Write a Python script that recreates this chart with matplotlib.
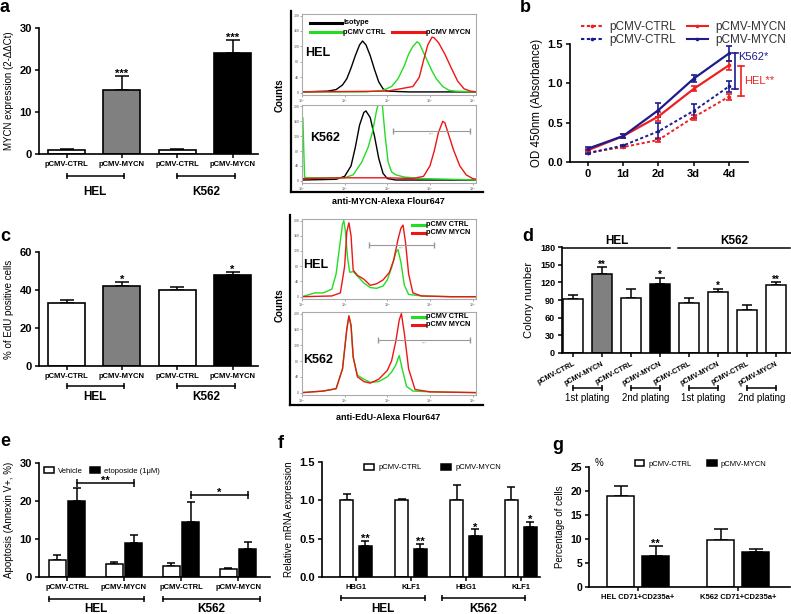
import numpy as np
import matplotlib
matplotlib.use('Agg')
import matplotlib.pyplot as plt
from matplotlib import transforms
from matplotlib.lines import Line2D

plt.rcParams['font.family'] = ['Liberation Sans', 'DejaVu Sans']
plt.rcParams['font.weight'] = 'bold'

# ---- data ----
# panel a: MYCN expression
a_labels = ['pCMV-CTRL', 'pCMV-MYCN', 'pCMV-CTRL', 'pCMV-MYCN']
a_vals = [1.0, 15.2, 1.0, 24.0]
a_err = [0.2, 3.3, 0.2, 3.1]
a_sig = ['', '***', '', '***']

# panel b: OD450 growth curves
b_days = ['0', '1d', '2d', '3d', '4d']
b_hel_ctrl = [0.12, 0.19, 0.28, 0.57, 0.83]
b_hel_ctrl_err = [0.01, 0.01, 0.02, 0.03, 0.04]
b_k562_ctrl = [0.11, 0.21, 0.39, 0.65, 0.96]
b_k562_ctrl_err = [0.01, 0.01, 0.10, 0.09, 0.07]
b_hel_mycn = [0.15, 0.33, 0.58, 0.93, 1.23]
b_hel_mycn_err = [0.02, 0.02, 0.06, 0.03, 0.06]
b_k562_mycn = [0.17, 0.33, 0.66, 1.06, 1.38]
b_k562_mycn_err = [0.02, 0.03, 0.09, 0.04, 0.09]

# panel c: EdU positive cells
c_vals = [33, 42, 40, 48]
c_err = [2.0, 2.0, 1.5, 1.3]
c_sig = ['', '*', '', '*']

# panel d: colony number
d_labels = ['pCMV-CTRL', 'pCMV-MYCN'] * 4
d_vals = [92, 134, 93, 118, 85, 103, 73, 116]
d_err = [7, 12, 15, 10, 9, 6, 8, 4]
d_sig = ['', '**', '', '*', '', '*', '', '**']
d_platings = ['1st plating', '2nd plating', '1st plating', '2nd plating']

# panel e: apoptosis
e_labels = ['pCMV-CTRL', 'pCMV-MYCN', 'pCMV-CTRL', 'pCMV-MYCN']
e_veh = [4.5, 3.5, 2.8, 2.1]
e_veh_err = [1.2, 0.5, 0.9, 0.4]
e_eto = [20.0, 9.0, 14.5, 7.5]
e_eto_err = [3.5, 2.0, 5.2, 1.8]

# panel f: relative mRNA expression
f_labels = ['HBG1', 'KLF1', 'HBG1', 'KLF1']
f_ctrl = [1.0, 1.0, 1.0, 1.0]
f_ctrl_err = [0.08, 0.02, 0.20, 0.17]
f_mycn = [0.40, 0.37, 0.53, 0.65]
f_mycn_err = [0.07, 0.06, 0.09, 0.07]
f_sig = ['**', '**', '*', '*']

# panel g: percentage of cells
g_labels = ['HEL CD71+CD235a+', 'K562 CD71+CD235a+']
g_ctrl = [18.9, 9.8]
g_ctrl_err = [2.2, 2.2]
g_mycn = [6.4, 7.2]
g_mycn_err = [2.1, 0.8]
g_sig = ['**', '']

# flow cytometry curves (log10 intensity, relative counts)
fa_hel_iso_x = [0, 0.6, 0.8, 0.95, 1.05, 1.15, 1.25, 1.35, 1.42, 1.5, 1.6, 1.7, 1.8, 1.9, 2.0, 2.5, 3.0, 3.5, 4.1]
fa_hel_iso_y = [0.01, 0.02, 0.04, 0.10, 0.18, 0.32, 0.48, 0.62, 0.67, 0.62, 0.48, 0.30, 0.14, 0.05, 0.02, 0.01, 0.01, 0.01, 0.01]
fa_hel_ctrl_x = [0, 1.5, 1.9, 2.1, 2.25, 2.4, 2.5, 2.6, 2.7, 2.75, 2.85, 2.95, 3.05, 3.15, 3.3, 3.45, 3.6, 4.1]
fa_hel_ctrl_y = [0.01, 0.01, 0.03, 0.08, 0.18, 0.35, 0.50, 0.60, 0.66, 0.64, 0.52, 0.40, 0.28, 0.18, 0.08, 0.03, 0.02, 0.01]
fa_hel_mycn_x = [0, 2.0, 2.3, 2.6, 2.75, 2.85, 2.95, 3.05, 3.1, 3.2, 3.35, 3.5, 3.65, 3.8, 3.95, 4.1]
fa_hel_mycn_y = [0.01, 0.02, 0.05, 0.08, 0.20, 0.42, 0.62, 0.72, 0.71, 0.65, 0.50, 0.32, 0.15, 0.05, 0.02, 0.01]
fa_k_iso_x = [0, 0.8, 1.0, 1.15, 1.25, 1.35, 1.45, 1.5, 1.6, 1.7, 1.8, 1.9, 2.0, 2.2, 3.0, 4.1]
fa_k_iso_y = [0.01, 0.02, 0.06, 0.20, 0.45, 0.75, 0.92, 0.94, 0.85, 0.60, 0.30, 0.10, 0.03, 0.01, 0.01, 0.01]
fa_k_ctrl_x = [0, 0.02, 0.06, 0.1, 0.5, 1.0, 1.2, 1.4, 1.55, 1.65, 1.75, 1.82, 1.88, 1.95, 2.02, 2.1, 2.2, 2.4, 2.8, 3.5, 4.1]
fa_k_ctrl_y = [0.85, 0.85, 0.05, 0.04, 0.04, 0.04, 0.08, 0.25, 0.45, 0.65, 0.95, 1.10, 1.05, 0.60, 0.25, 0.12, 0.08, 0.05, 0.03, 0.02, 0.01]
fa_k_mycn_x = [0, 1.0, 2.0, 2.6, 2.85, 3.0, 3.1, 3.2, 3.3, 3.35, 3.45, 3.55, 3.7, 3.85, 4.0, 4.1]
fa_k_mycn_y = [0.03, 0.04, 0.04, 0.03, 0.06, 0.20, 0.40, 0.65, 0.80, 0.78, 0.60, 0.42, 0.20, 0.08, 0.03, 0.02]

fc_hel_ctrl_x = [0, 0.3, 0.5, 0.7, 0.8, 0.88, 0.95, 0.98, 1.02, 1.07, 1.12, 1.2, 1.3, 1.45, 1.6, 1.75, 1.9, 2.0, 2.1, 2.2, 2.25, 2.32, 2.4, 2.5, 2.8, 3.5, 4.1]
fc_hel_ctrl_y = [0.0, 0.05, 0.05, 0.10, 0.30, 0.65, 0.95, 1.0, 0.85, 0.50, 0.32, 0.33, 0.27, 0.18, 0.12, 0.11, 0.14, 0.22, 0.38, 0.58, 0.62, 0.45, 0.15, 0.03, 0.01, 0.0, 0.0]
fc_hel_mycn_x = [0, 0.7, 0.9, 1.0, 1.05, 1.1, 1.15, 1.2, 1.3, 1.45, 1.6, 1.75, 1.9, 2.05, 2.15, 2.25, 2.32, 2.37, 2.43, 2.5, 2.6, 2.8, 3.5, 4.1]
fc_hel_mycn_y = [0.0, 0.01, 0.05, 0.40, 0.85, 0.97, 0.80, 0.35, 0.28, 0.23, 0.15, 0.17, 0.22, 0.32, 0.48, 0.75, 0.90, 0.94, 0.70, 0.30, 0.05, 0.01, 0.0, 0.0]
fc_k_ctrl_x = [0, 0.5, 0.8, 0.95, 1.05, 1.1, 1.15, 1.2, 1.3, 1.45, 1.6, 1.8, 2.0, 2.1, 2.2, 2.28, 2.35, 2.45, 2.6, 3.0, 4.1]
fc_k_ctrl_y = [0.0, 0.02, 0.05, 0.30, 0.80, 0.97, 0.85, 0.45, 0.22, 0.17, 0.13, 0.14, 0.20, 0.26, 0.35, 0.47, 0.30, 0.08, 0.02, 0.01, 0.0]
fc_k_mycn_x = [0, 0.5, 0.8, 0.95, 1.05, 1.1, 1.15, 1.2, 1.3, 1.45, 1.6, 1.8, 2.0, 2.1, 2.2, 2.28, 2.33, 2.4, 2.5, 2.65, 3.0, 4.1]
fc_k_mycn_y = [0.0, 0.02, 0.05, 0.30, 0.80, 0.97, 0.85, 0.45, 0.20, 0.14, 0.12, 0.17, 0.28, 0.40, 0.65, 0.92, 1.0, 0.75, 0.30, 0.04, 0.01, 0.0]

RED = '#ee2020'
BLUE = '#1c1c8e'
GREEN = '#22dd22'
FRED = '#ee1515'
GRAY = '#808080'

W, H = 791, 614
fig = plt.figure(figsize=(W / 100, H / 100), dpi=100)


def box(x0, y0, x1, y1):
    return fig.add_axes([x0 / W, 1 - y1 / H, (x1 - x0) / W, (y1 - y0) / H])


def fy(y):
    return 1 - y / H


def ftext(x, y, s, **kw):
    fig.text(x / W, fy(y), s, **kw)


def fline(x0, x1, y0, y1, **kw):
    fig.add_artist(Line2D([x0 / W, x1 / W], [fy(y0), fy(y1)], **kw))


def style(ax, size=7):
    for s in ['top', 'right']:
        ax.spines[s].set_visible(False)
    for s in ['left', 'bottom']:
        ax.spines[s].set_linewidth(1.2)
    ax.tick_params(width=1.1, length=3, labelsize=size, pad=2)


def group_bracket(ax, x0, x1, ypx, label, lypx, size=8.5):
    tr = transforms.blended_transform_factory(ax.transData, fig.transFigure)
    ax.plot([x0, x1], [fy(ypx)] * 2, color='k', lw=1.1, marker='|', ms=5, mew=1.1,
            transform=tr, clip_on=False)
    ax.text((x0 + x1) / 2, fy(lypx), label, transform=tr, ha='center', va='center',
            fontsize=size, fontweight='bold')


def up_err(ax, x, v, e, cs=4):
    ax.errorbar(x, v, yerr=[np.zeros(len(e)), e], fmt='none', ecolor='k',
                elinewidth=1.1, capsize=cs, capthick=1.1, zorder=1)


def sig_text(ax, x, v, e, sig, off, size=8):
    for xi, vi, ei, s in zip(x, v, e, sig):
        if s:
            ax.text(xi, vi + ei + off, s, ha='center', va='bottom', fontsize=size, fontweight='bold')


# ---------------- panel a ----------------
ax = box(39, 28, 258, 154)
x = np.arange(4)
up_err(ax, x, a_vals, a_err, 5)
ax.bar(x, a_vals, width=0.67, color=['white', GRAY, 'white', 'black'], edgecolor='k', lw=1.2, zorder=2)
sig_text(ax, x, a_vals, a_err, a_sig, -0.6)
ax.set_xlim(-0.5, 3.46)
ax.set_ylim(0, 30)
ax.set_yticks([0, 10, 20, 30])
style(ax, 8)
ax.set_xticks(x)
ax.set_xticklabels(a_labels, fontsize=5.5)
ax.set_ylabel('MYCN expression (2-ΔΔCt)', fontsize=7, labelpad=4)
group_bracket(ax, 0, 1.03, 176, 'HEL', 192)
group_bracket(ax, 2, 3.05, 176, 'K562', 192)

# ---------------- panel c ----------------
ax = box(39, 252, 258, 366)
up_err(ax, x, c_vals, c_err, 5)
ax.bar(x, c_vals, width=0.67, color=['white', GRAY, 'white', 'black'], edgecolor='k', lw=1.2, zorder=2)
sig_text(ax, x, c_vals, c_err, c_sig, -1.5)
ax.set_xlim(-0.5, 3.46)
ax.set_ylim(0, 60)
ax.set_yticks([0, 20, 40, 60])
style(ax, 8)
ax.set_xticks(x)
ax.set_xticklabels(a_labels, fontsize=5.5)
ax.set_ylabel('% of EdU positive cells', fontsize=7, labelpad=4)
group_bracket(ax, 0, 1.03, 386, 'HEL', 397)
group_bracket(ax, 2, 3.05, 386, 'K562', 397)

# ---------------- panel b ----------------
ax = box(570, 44, 748, 162)
xd = np.arange(len(b_days))
DOT = (0, (1.6, 1.2))
series = [
    (b_hel_ctrl, b_hel_ctrl_err, RED, DOT, 'pCMV-CTRL'),
    (b_k562_ctrl, b_k562_ctrl_err, BLUE, DOT, 'pCMV-CTRL'),
    (b_hel_mycn, b_hel_mycn_err, RED, '-', 'pCMV-MYCN'),
    (b_k562_mycn, b_k562_mycn_err, BLUE, '-', 'pCMV-MYCN'),
]
handles = []
for vals, err, col, ls, lab in series:
    ax.errorbar(xd, vals, yerr=err, color=col, ls=ls, lw=1.6 if ls == '-' else 1.4,
                marker='o', ms=1.6, capsize=2.5, elinewidth=1.2, capthick=1.2)
    handles.append(Line2D([], [], color=col, ls=ls, lw=1.5, marker='o', ms=1.6, label=lab))
ax.set_xlim(-0.51, 4.54)
ax.set_ylim(0, 1.5)
ax.set_yticks([0, 0.5, 1.0, 1.5])
ax.set_yticklabels(['0.0', '0.5', '1.0', '1.5'])
ax.set_xticks(xd)
ax.set_xticklabels(b_days)
style(ax, 8)
ax.set_ylabel('OD 450nm (Absorbance)', fontsize=8.3, labelpad=3)
leg = ax.legend(handles=handles, ncol=2, loc='lower left', bbox_to_anchor=(0.03, 0.93),
                frameon=False, handlelength=1.8, columnspacing=0.9,
                handletextpad=0.6, labelspacing=0.1, borderpad=0, prop={'weight': 'normal', 'size': 8.5})
for t in leg.get_texts():
    t.set_color('#333333')
# significance brackets
for xb, y0, y1, col, lab, ly in [(4.17, 0.93, 1.38, BLUE, 'K562*', 1.33), (4.34, 0.84, 1.22, RED, 'HEL**', 1.03)]:
    ax.plot([xb, xb], [y0, y1], color=col, lw=1.2, clip_on=False)
    ax.plot([xb - 0.08, xb + 0.08], [y0, y0], color=col, lw=1.2, clip_on=False)
    ax.plot([xb - 0.08, xb + 0.08], [y1, y1], color=col, lw=1.2, clip_on=False)
    ax.text(xb + 0.08, ly, lab, color=col, fontsize=8, fontweight='normal', va='center', ha='left')

# ---------------- panel d ----------------
ax = box(562, 247, 791, 353)
xd8 = np.arange(8)
d_colors = ['white', GRAY, 'white', 'black', 'white', 'white', 'white', 'white']
up_err(ax, xd8, d_vals, d_err, 3.5)
ax.bar(xd8, d_vals, width=0.69, color=d_colors, edgecolor='k', lw=1.1, zorder=2)
sig_text(ax, xd8, d_vals, d_err, d_sig, -4, 7)
ax.set_xlim(-0.38, 7.52)
ax.set_ylim(0, 180)
ax.set_yticks(np.arange(0, 181, 30))
style(ax, 6.5)
ax.set_xticks(xd8)
ax.set_xticklabels(d_labels, fontsize=5.2, rotation=28, ha='right', rotation_mode='anchor')
ax.set_ylabel('Colony number', fontsize=8, labelpad=4)
tr = transforms.blended_transform_factory(ax.transData, fig.transFigure)
for x0, x1, lab in [(-0.34, 3.34, 'HEL'), (3.62, 7.5, 'K562')]:
    ax.plot([x0, x1], [fy(248)] * 2, color='k', lw=1.1, transform=tr, clip_on=False)
    ax.text((x0 + x1) / 2, fy(241), lab, transform=tr, ha='center', va='center', fontsize=8.5)
for i, lab in enumerate(d_platings):
    ax.plot([2 * i, 2 * i + 1], [fy(388)] * 2, color='k', lw=1.1, marker='|', ms=5, mew=1.1,
            transform=tr, clip_on=False)
    ax.text(2 * i + 0.5, fy(398), lab, transform=tr, ha='center', va='center', fontsize=7, fontweight='normal')

# ---------------- panel e ----------------
ax = box(39, 463, 270, 577)
off, bw = 0.17, 0.29
up_err(ax, x - off, e_veh, e_veh_err, 3)
up_err(ax, x + off, e_eto, e_eto_err, 3)
ax.bar(x - off, e_veh, width=bw, color='white', edgecolor='k', lw=1.1, zorder=2, label='Vehicle')
ax.bar(x + off, e_eto, width=bw, color='black', edgecolor='k', lw=1.1, zorder=2, label='etoposide (1μM)')
ax.set_xlim(-0.49, 3.56)
ax.set_ylim(0, 30)
ax.set_yticks([0, 10, 20, 30])
style(ax, 8)
ax.set_xticks(x)
ax.set_xticklabels(e_labels, fontsize=5.5)
ax.set_ylabel('Apoptosis (Annexin V+, %)', fontsize=7, labelpad=4)
for g0, yb, s in [(0, 24.7, '**'), (2, 21.6, '*')]:
    ax.plot([g0 + off, g0 + 1 + off], [yb, yb], color='k', lw=1.1, marker='|', ms=6, mew=1.1)
    ax.text(g0 + 0.5 + off, yb - 0.8, s, ha='center', va='bottom', fontsize=8)
ax.legend(loc='upper left', bbox_to_anchor=(0.0, 1.01), ncol=2, frameon=False,
          handlelength=1.3, handleheight=0.8, columnspacing=0.9, handletextpad=0.5,
          borderpad=0.2, prop={'weight': 'normal', 'size': 5.5})
group_bracket(ax, -0.32, 1.35, 599, 'HEL', 609)
group_bracket(ax, 1.68, 3.39, 599, 'K562', 609)

# ---------------- panel f ----------------
ax = box(322, 462, 540, 577)
off, bw = 0.17, 0.24
up_err(ax, x - off, f_ctrl, f_ctrl_err, 3)
up_err(ax, x + off, f_mycn, f_mycn_err, 3)
ax.bar(x - off, f_ctrl, width=bw, color='white', edgecolor='k', lw=1.1, zorder=2, label='pCMV-CTRL')
ax.bar(x + off, f_mycn, width=bw, color='black', edgecolor='k', lw=1.1, zorder=2, label='pCMV-MYCN')
sig_text(ax, x + off, f_mycn, f_mycn_err, f_sig, -0.04)
ax.set_xlim(-0.62, 3.35)
ax.set_ylim(0, 1.5)
ax.set_yticks([0, 0.5, 1.0, 1.5])
ax.set_yticklabels(['0.0', '0.5', '1.0', '1.5'])
style(ax, 8)
ax.set_xticks(x)
ax.set_xticklabels(f_labels, fontsize=5.5)
ax.set_ylabel('Relative mRNA expression', fontsize=7, labelpad=4)
ax.legend(loc='upper left', bbox_to_anchor=(0.17, 1.03), ncol=2, frameon=False,
          handlelength=1.3, handleheight=0.8, columnspacing=2.6, handletextpad=0.5,
          borderpad=0.2, prop={'weight': 'normal', 'size': 5.5})
group_bracket(ax, -0.27, 1.25, 598, 'HEL', 609)
group_bracket(ax, 1.56, 3.07, 598, 'K562', 609)

# ---------------- panel g ----------------
ax = box(589, 467, 790, 587)
x2 = np.arange(2)
off, bw = 0.175, 0.27
up_err(ax, x2 - off, g_ctrl, g_ctrl_err, 5)
up_err(ax, x2 + off, g_mycn, g_mycn_err, 5)
ax.bar(x2 - off, g_ctrl, width=bw, color='white', edgecolor='k', lw=1.1, zorder=2, label='pCMV-CTRL')
ax.bar(x2 + off, g_mycn, width=bw, color='black', edgecolor='k', lw=1.1, zorder=2, label='pCMV-MYCN')
sig_text(ax, x2 + off, g_mycn, g_mycn_err, g_sig, -0.6)
ax.set_xlim(-0.49, 1.52)
ax.set_ylim(0, 25)
ax.set_yticks(np.arange(0, 26, 5))
style(ax, 7.5)
ax.set_xticks(x2)
ax.set_xticklabels(g_labels, fontsize=5.5)
ax.set_ylabel('Percentage of cells', fontsize=7, labelpad=4)
ax.legend(loc='upper left', bbox_to_anchor=(0.2, 1.1), ncol=2, frameon=False,
          handlelength=1.3, handleheight=0.8, columnspacing=2.0, handletextpad=0.5,
          borderpad=0.2, prop={'weight': 'normal', 'size': 5.5})
ftext(595, 463, '%', fontsize=7, fontweight='normal', ha='left', va='center')


# ---------------- flow cytometry panels ----------------
def flow_ax(y0, y1, curves, gate=None):
    fax = box(302, y0, 476, y1)
    for xs, ys, col in curves:
        fax.plot(xs, ys, color=col, lw=1.0)
    if gate:
        fax.plot([gate[0], gate[1]], [gate[2]] * 2, color='#999999', lw=0.8, marker='|', ms=4)
        fax.text((gate[0] + gate[1]) / 2, gate[2] - 0.02, '***', color='#999999', fontsize=3,
                 ha='center', va='top', fontweight='normal')
    fax.set_xlim(0, 4.08)
    fax.set_ylim(-0.03, 1.02)
    for s in fax.spines.values():
        s.set_color('#aaaaaa')
        s.set_linewidth(0.8)
    fax.set_xticks([0, 1, 2, 3, 4])
    fax.set_xticklabels(['10$^0$', '10$^1$', '10$^2$', '10$^3$', '10$^4$'])
    fax.set_yticks([0, 0.2, 0.4, 0.6, 0.8, 1.0])
    fax.set_yticklabels(['0', '40', '80', '120', '160', '200'])
    fax.tick_params(labelsize=2.5, length=1.5, width=0.5, pad=0.5, colors='#888888')
    return fax


# flow a (MYCN)
fline(291, 291, 11, 192, color='k', lw=1.6)
fline(291, 483, 192, 192, color='k', lw=1.6)
flow_ax(14, 95, [(fa_hel_iso_x, fa_hel_iso_y, 'black'), (fa_hel_ctrl_x, fa_hel_ctrl_y, GREEN),
                 (fa_hel_mycn_x, fa_hel_mycn_y, FRED)])
flow_ax(105, 183, [(fa_k_iso_x, fa_k_iso_y, 'black'), (fa_k_ctrl_x, fa_k_ctrl_y, GREEN),
                   (fa_k_mycn_x, fa_k_mycn_y, FRED)], gate=(2.14, 3.95, 0.67))
for (lx0, lx1, ly, col, lab) in [(310, 342, 23, 'black', 'Isotype'), (310, 342, 32, GREEN, 'pCMV CTRL'),
                                  (392, 425, 32, FRED, 'pCMV MYCN')]:
    fline(lx0, lx1, ly, ly, color=col, lw=2.2)
    ftext(lx1 + 1, ly, lab, fontsize=5.3, va='center', ha='left')
ftext(305, 53, 'HEL', fontsize=9, va='center')
ftext(310, 138, 'K562', fontsize=9, va='center')
ftext(280, 95, 'Counts', fontsize=7, rotation=90, ha='center', va='center')
ftext(388, 202, 'anti-MYCN-Alexa Flour647', fontsize=6.5, ha='center', va='center')

# flow c (EdU)
fline(290, 290, 215, 405, color='k', lw=1.6)
fline(290, 483, 405, 405, color='k', lw=1.6)
flow_ax(219, 299, [(fc_hel_ctrl_x, fc_hel_ctrl_y, GREEN), (fc_hel_mycn_x, fc_hel_mycn_y, FRED)],
        gate=(1.58, 3.09, 0.68))
flow_ax(312, 395, [(fc_k_ctrl_x, fc_k_ctrl_y, GREEN), (fc_k_mycn_x, fc_k_mycn_y, FRED)],
        gate=(1.79, 3.95, 0.67))
for ly0 in [225, 317]:
    for dy, col, lab in [(0, GREEN, 'pCMV CTRL'), (8, FRED, 'pCMV MYCN')]:
        fline(412, 425, ly0 + dy, ly0 + dy, color=col, lw=2.2)
        ftext(426, ly0 + dy, lab, fontsize=5.3, va='center', ha='left')
ftext(303, 265, 'HEL', fontsize=9, va='center')
ftext(303, 360, 'K562', fontsize=9, va='center')
ftext(280, 305, 'Counts', fontsize=7, rotation=90, ha='center', va='center')
ftext(388, 417, 'anti-EdU-Alexa Flour647', fontsize=6.5, ha='center', va='center')

# panel letters
for lx, ly, s in [(0, 7, 'a'), (520, 8, 'b'), (0, 237, 'c'), (522, 237, 'd'),
                  (0, 442, 'e'), (278, 443, 'f'), (552, 445, 'g')]:
    ftext(lx, ly, s, fontsize=13, ha='left', va='center')

fig.savefig('out.png', dpi=100)
